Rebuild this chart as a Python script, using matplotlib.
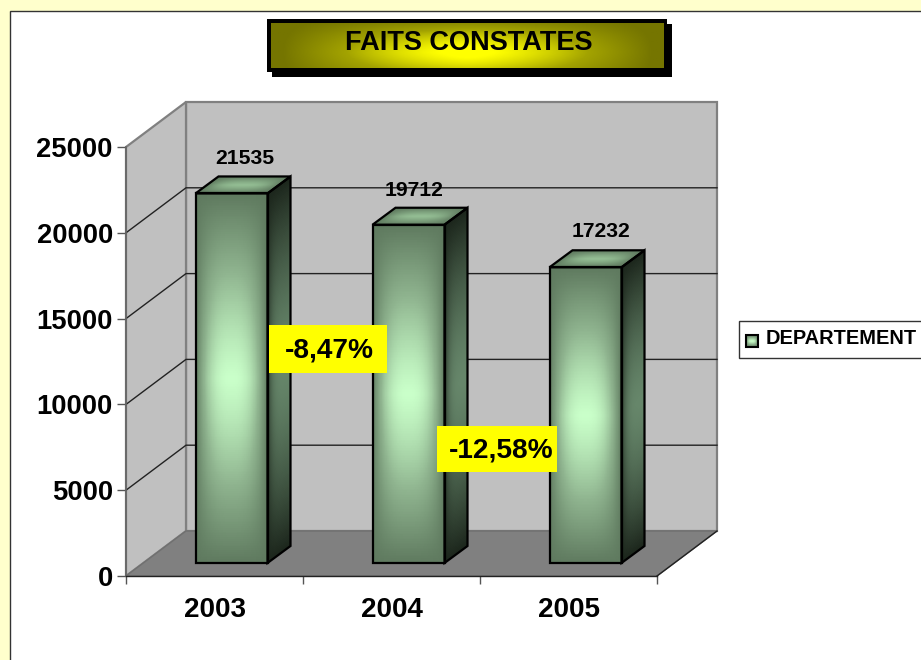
import numpy as np
import matplotlib
matplotlib.use('Agg')
import matplotlib.pyplot as plt
from matplotlib.colors import LinearSegmentedColormap
from matplotlib.patches import Polygon, Rectangle

years = ['2003', '2004', '2005']
values = [21535, 19712, 17232]
y_ticks = [0, 5000, 10000, 15000, 20000, 25000]
series_name = 'DEPARTEMENT'
title = 'FAITS CONSTATES'
changes = ['-8,47%', '-12,58%']

W, H = 921, 660
plt.rcParams['font.family'] = ['Liberation Sans', 'DejaVu Sans']
plt.rcParams['font.weight'] = 'bold'

front_cmap = LinearSegmentedColormap.from_list('front', ['#5f7a5f', '#8fb48f', '#c9ffc9'])
top_cmap = LinearSegmentedColormap.from_list('top', ['#5f7a5f', '#93bd93'])
side_cmap = LinearSegmentedColormap.from_list('side', ['#1c261c', '#66866a'])
title_cmap = LinearSegmentedColormap.from_list('title', ['#757500', '#a3a300', '#ffff00'])

# pixels per data unit on the front plane of the 3d box
PX_X = 531 / 3
PX_Y = 429 / 25000
CELLS = 200


def glow():
    # light in the middle, dark along the edges
    a = np.linspace(-1, 1, CELLS)
    uu, ww = np.meshgrid(a, a)
    return (1 - np.abs(uu) ** 2.6) * (1 - np.abs(ww) ** 1.25)


def shade(ax, corners, cmap, z, vals=None):
    # corners = bottom left, bottom right, top right, top left
    (x0, y0), (x1, y1), (x2, y2), (x3, y3) = corners
    s = np.linspace(0, 1, CELLS + 1)
    ss, tt = np.meshgrid(s, s)
    xs = (1 - tt) * ((1 - ss) * x0 + ss * x1) + tt * ((1 - ss) * x3 + ss * x2)
    ys = (1 - tt) * ((1 - ss) * y0 + ss * y1) + tt * ((1 - ss) * y3 + ss * y2)
    if vals is None:
        vals = glow()
    return ax.pcolormesh(xs, ys, vals, cmap=cmap, vmin=0, vmax=1, shading='flat',
                         zorder=z, clip_on=False, antialiased=False, linewidth=0)


fig = plt.figure(figsize=(W / 100, H / 100), dpi=100, facecolor='#ffffcc')

# background and decoration, in pixels
bg = fig.add_axes([0, 0, 1, 1], zorder=0)
bg.set_xlim(0, W)
bg.set_ylim(H, 0)
bg.axis('off')
bg.add_patch(Rectangle((9.5, 10.5), W + 20, H + 20, fc='white', ec='#333333', lw=1))

# main plot, axes = front plane of the box
ax = fig.add_axes([126 / W, (H - 576) / H, 531 / W, 429 / H], zorder=1)
ax.patch.set_alpha(0)
ax.set_xlim(0, 3)
ax.set_ylim(0, 25000)

depth_x = 60 / PX_X
depth_y = 45 / PX_Y
wall_top = 25000 + depth_y

ax.add_patch(Polygon([(depth_x, depth_y), (3 + depth_x, depth_y), (3 + depth_x, wall_top), (depth_x, wall_top)],
                     fc='#c0c0c0', ec='#808080', lw=1.6, clip_on=False, zorder=1))
ax.add_patch(Polygon([(0, 0), (depth_x, depth_y), (depth_x, wall_top), (0, 25000)],
                     fc='#c0c0c0', ec='#808080', lw=1.6, clip_on=False, zorder=1))
ax.add_patch(Polygon([(0, 0), (3, 0), (3 + depth_x, depth_y), (depth_x, depth_y)],
                     fc='#808080', ec='#707070', lw=1, clip_on=False, zorder=2))
ax.plot([3, 3 + depth_x], [0, depth_y], color='#222222', lw=1, clip_on=False, zorder=2)

for v in y_ticks[1:-1]:
    ax.plot([0, depth_x, 3 + depth_x], [v, v + depth_y, v + depth_y],
            color='#222222', lw=1, clip_on=False, zorder=1.5)

bar_w = 72 / PX_X
off_x = 17 / PX_X
off_y = 13 / PX_Y
side_x = 23 / PX_X
side_y = 17 / PX_Y
label_dx = [13, 6, 15]
label_dy = [35, 34, 36]

a = np.linspace(-1, 1, CELLS)
b = np.linspace(0, 1, CELLS)
side_vals = (1 - np.abs(a)[:, None] ** 1.5) * (1 - (1 - b[None, :]) ** 5 * 0.8)

for i, val in enumerate(values):
    left = i + 0.5 + off_x - bar_w / 2
    right = left + bar_w
    base = off_y
    top = val + off_y
    z = 5 + i
    front = [(left, base), (right, base), (right, top), (left, top)]
    side = [(right, base), (right + side_x, base + side_y), (right + side_x, top + side_y), (right, top)]
    lid = [(left, top), (right, top), (right + side_x, top + side_y), (left + side_x, top + side_y)]
    shade(ax, front, front_cmap, z)
    shade(ax, side, side_cmap, z, side_vals)
    shade(ax, lid, top_cmap, z)
    for pts in (front, side, lid):
        ax.add_patch(Polygon(pts, fc='none', ec='black', lw=1.6, clip_on=False, zorder=z + 0.5, joinstyle='miter'))
    ax.annotate(str(val), xy=((left + right) / 2, top), xytext=(label_dx[i], label_dy[i]),
                textcoords='offset pixels', ha='center', va='center', fontsize=15.2,
                fontweight='bold', annotation_clip=False, zorder=20)

for s in ('top', 'right'):
    ax.spines[s].set_visible(False)
ax.spines['left'].set_color('#666666')
ax.spines['left'].set_linewidth(1.2)
ax.spines['left'].set_zorder(3)
ax.spines['bottom'].set_color('#222222')
ax.spines['bottom'].set_linewidth(1)
ax.spines['bottom'].set_zorder(3)

ax.set_yticks(y_ticks)
ax.set_yticklabels([str(v) for v in y_ticks], fontsize=19.7, fontweight='bold')
ax.set_xticks([0, 1, 2, 3])
ax.set_xticklabels([])
ax.set_xticks([0.5, 1.5, 2.5], minor=True)
ax.set_xticklabels(years, minor=True, fontsize=20, fontweight='bold')
ax.tick_params(axis='y', length=6.5, width=1, color='#555555', pad=3)
ax.tick_params(axis='x', which='major', length=6, width=1, color='#555555')
ax.tick_params(axis='x', which='minor', length=0, pad=15)

# yellow notes, title and legend on top
top_ax = fig.add_axes([0, 0, 1, 1], zorder=2)
top_ax.patch.set_alpha(0)
top_ax.set_xlim(0, W)
top_ax.set_ylim(H, 0)
top_ax.axis('off')

note_boxes = [(269, 325, 118, 48), (437, 426, 120, 46)]
note_right = [374, 553]
for (bx, by, bw, bh), txt, rx in zip(note_boxes, changes, note_right):
    top_ax.add_patch(Rectangle((bx, by), bw, bh, fc='#ffff00', ec='none'))
    top_ax.text(rx, by + bh / 2 + 1, txt, ha='right', va='center', fontsize=20.2, fontweight='bold')

# title box
top_ax.add_patch(Rectangle((272, 24), 400, 53, fc='black', ec='none'))
top_ax.add_patch(Rectangle((267, 19), 400, 53, fc='black', ec='none'))
u = np.linspace(-1, 1, 200)
w = np.linspace(-1, 1, 50)
uu, ww = np.meshgrid(u, w)
title_vals = (1 - np.abs(uu) ** 1.5) * (1 - np.abs(ww - 0.3) ** 1.6 / 2.2)
top_ax.imshow(title_vals, extent=(271, 663, 68, 23), cmap=title_cmap, vmin=0.08, vmax=0.95,
              aspect='auto', interpolation='bilinear', zorder=3)
top_ax.set_xlim(0, W)
top_ax.set_ylim(H, 0)
top_ax.text(468.5, 43.5, title, ha='center', va='center', fontsize=19.5, fontweight='bold', zorder=4)

# legend box, runs off the right side like the original
top_ax.add_patch(Rectangle((738.5, 320.5), 200, 37, fc='white', ec='#333333', lw=1))
shade(top_ax, [(746, 347), (758, 347), (758, 335), (746, 335)], front_cmap, 4)
top_ax.add_patch(Rectangle((746, 335), 12, 12, fc='none', ec='black', lw=1.5, zorder=5))
top_ax.text(766, 338.5, series_name, ha='left', va='center', fontsize=14.4, fontweight='bold', zorder=5)

fig.savefig('out.png', dpi=100, facecolor=fig.get_facecolor())
